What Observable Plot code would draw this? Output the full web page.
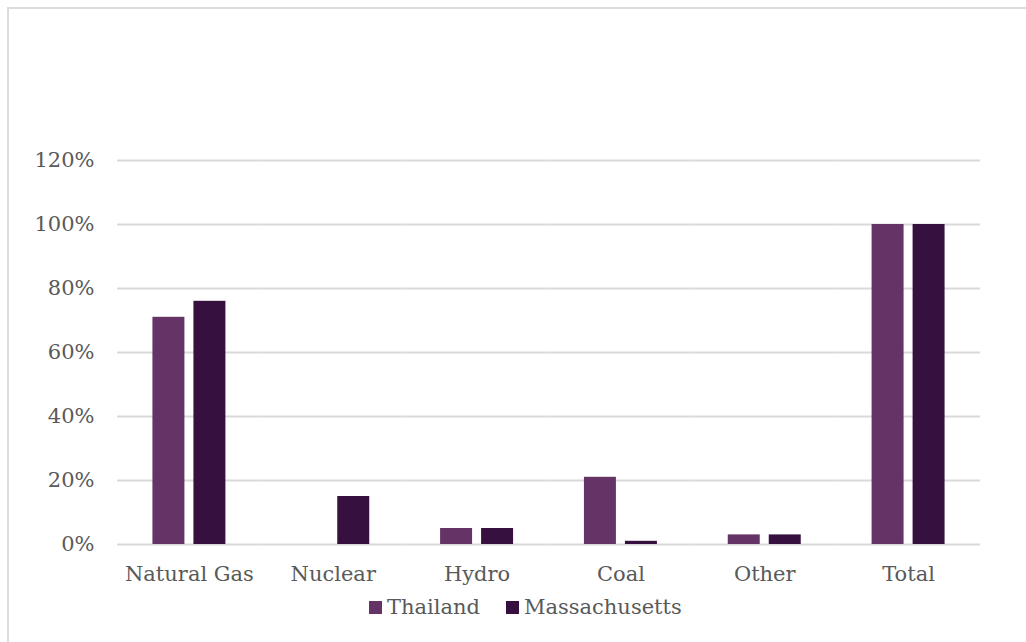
<!DOCTYPE html>
<html>
<head>
<meta charset="utf-8">
<script src="https://cdn.jsdelivr.net/npm/d3@7"></script>
<script src="https://cdn.jsdelivr.net/npm/@observablehq/plot@0.6"></script>
<style>
  html, body { margin: 0; padding: 0; background: #fff; }
  body { width: 1026px; height: 642px; position: relative; overflow: hidden; font-family: "DejaVu Serif", serif; }
  #frame { position: absolute; left: 7px; top: 7px; width: 1040px; height: 660px; border-top: 2px solid #dcdcdc; border-left: 2px solid #dcdcdc; box-sizing: border-box; }
  #chart { position: absolute; left: 0; top: 0; }
  #legend { position: absolute; left: 369px; top: 595px; display: flex; align-items: center; font-size: 21px; color: #595959; white-space: nowrap; }
  #legend .item { display: flex; align-items: center; margin-right: 26px; }
  #legend .sw { width: 13px; height: 13px; margin-right: 5px; }
</style>
</head>
<body>
<div id="frame"></div>
<div id="chart"></div>
<div id="legend"></div>
<script>
// Electricity generation mix by source, share of total
const categories = ["Natural Gas", "Nuclear", "Hydro", "Coal", "Other", "Total"];
const seriesNames = ["Thailand", "Massachusetts"];
const thailand = [0.71, 0, 0.05, 0.21, 0.03, 1.00];
const massachusetts = [0.76, 0.15, 0.05, 0.01, 0.03, 1.00];
const yTicks = [0, 0.2, 0.4, 0.6, 0.8, 1.0, 1.2];
const colors = ["#663366", "#36103f"];

const rows = [];
categories.forEach((c, i) => {
  rows.push({category: c, series: seriesNames[0], value: thailand[i]});
  rows.push({category: c, series: seriesNames[1], value: massachusetts[i]});
});

const chart = Plot.plot({
  width: 1026,
  height: 590,
  marginLeft: 117,
  marginRight: 46,
  marginTop: 160,
  marginBottom: 46,
  style: {fontFamily: "DejaVu Serif, serif", fontSize: "21px", color: "#595959", background: "transparent"},
  fx: {domain: categories, padding: 0, round: false, label: null, axis: "bottom", tickSize: 0, tickPadding: 22},
  x: {domain: seriesNames, paddingInner: 0.22, paddingOuter: 0.864, round: false, axis: null},
  y: {domain: [0, 1.2], ticks: yTicks, tickFormat: d => Math.round(d * 100) + "%", label: null, tickSize: 0, tickPadding: 23},
  color: {domain: seriesNames, range: colors},
  marks: [
    Plot.gridY(yTicks, {stroke: "#d9d9d9", strokeOpacity: 1, strokeWidth: 2}),
    Plot.barY(rows, {fx: "category", x: "series", y: "value", fill: "series"})
  ]
});
document.getElementById("chart").appendChild(chart);

// Legend below the plot
const legend = document.getElementById("legend");
seriesNames.forEach((name, i) => {
  const item = document.createElement("div");
  item.className = "item";
  const sw = document.createElement("span");
  sw.className = "sw";
  sw.style.background = colors[i];
  const label = document.createElement("span");
  label.textContent = name;
  item.appendChild(sw);
  item.appendChild(label);
  legend.appendChild(item);
});
</script>
</body>
</html>
